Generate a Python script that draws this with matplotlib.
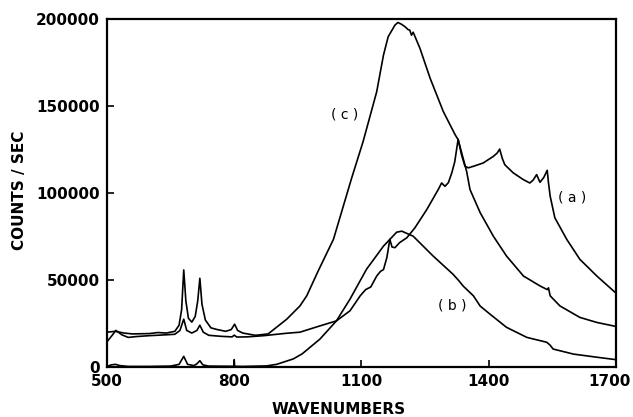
import numpy as np
import matplotlib
matplotlib.use("Agg")
import matplotlib.pyplot as plt
import matplotlib.transforms as mtransforms

# curve (a)
A_WN = [500, 510, 521, 535, 550, 570, 600, 640, 660, 672, 681, 688, 700, 712, 719, 727,
        740, 770, 795, 800, 806, 830, 870, 920, 955, 998, 1041, 1073, 1097, 1110, 1122,
        1136, 1145, 1152, 1160, 1167, 1172, 1179, 1190, 1207, 1226, 1254, 1281, 1289,
        1297, 1305, 1313, 1320, 1328, 1336, 1344, 1352, 1364, 1387, 1411, 1420, 1426,
        1432, 1438, 1458, 1482, 1497, 1505, 1513, 1521, 1530, 1538, 1541, 1545, 1556,
        1584, 1615, 1655, 1700]
A_CNT = [14500, 17500, 21000, 18500, 17000, 17500, 18000, 18500, 18800, 21000, 27500,
         21000, 19500, 21000, 24000, 20000, 18200, 17600, 17300, 18300, 17200, 17300,
         18000, 19300, 20000, 23300, 26500, 32300, 40900, 44500, 46000, 52300, 55000,
         56000, 63000, 73400, 69000, 68600, 71500, 74300, 80000, 90500, 102000, 105800,
         103900, 106000, 111600, 118000, 131000, 122000, 115500, 114500, 115400, 117300,
         121100, 123000, 125300, 120000, 116300, 111600, 107700, 105800, 107500, 110600,
         106200, 109000, 113100, 106000, 98200, 85800, 73400, 61900, 52300, 42500]

# curve (b)
B_WN = [500, 510, 520, 530, 550, 600, 650, 670, 681, 690, 705, 712, 719, 726, 740, 790,
        799, 800, 801, 820, 876, 900, 939, 960, 1002, 1041, 1073, 1112, 1152, 1183, 1195,
        1222, 1269, 1316, 1330, 1340, 1364, 1380, 1403, 1442, 1490, 1537, 1545, 1552,
        1600, 1655, 1700]
B_CNT = [300, 1200, 1500, 800, 300, 300, 500, 1500, 6100, 1500, 800, 1800, 3600, 1200,
         500, 400, 400, 4200, 400, 300, 600, 1500, 4600, 7500, 16000, 26500, 39000, 56200,
         69500, 77500, 78100, 75200, 63800, 53300, 49500, 46500, 40900, 35000, 30400,
         22800, 17000, 14200, 12500, 10300, 7400, 5600, 4200]

# curve (c)
C_WN = [500, 520, 540, 560, 600, 620, 640, 660, 670, 676, 681, 686, 692, 700, 708, 714,
        719, 724, 732, 745, 760, 780, 793, 801, 808, 820, 850, 880, 924, 955, 971, 998,
        1034, 1077, 1104, 1136, 1152, 1163, 1179, 1186, 1195, 1203, 1210, 1214, 1218,
        1222, 1238, 1262, 1293, 1321, 1328, 1348, 1356, 1380, 1411, 1442, 1482, 1521,
        1538, 1541, 1545, 1568, 1615, 1655, 1700]
C_CNT = [20000, 20500, 19500, 19000, 19200, 19800, 19500, 20500, 24000, 33000, 55800,
         38000, 28000, 25800, 29000, 38000, 51000, 36000, 27000, 22500, 21500, 20500,
         21500, 24600, 21000, 19500, 18200, 19000, 27500, 35100, 40900, 55200, 73400,
         108700, 129700, 158300, 179400, 189900, 196600, 198100, 197000, 195600, 194000,
         193700, 190800, 192500, 183200, 166000, 146900, 133500, 130700, 112500, 102000,
         88700, 75200, 63800, 52300, 46600, 44500, 45500, 40900, 35100, 28500, 25600, 23300]

X_TICKS = [500, 800, 1100, 1400, 1700]
Y_TICKS = [0, 50000, 100000, 150000, 200000]

fig = plt.figure(figsize=(6.33, 4.17), dpi=100)
ax = fig.add_axes([0.169, 0.12, 0.804, 0.834])

for wn, cnt in [(A_WN, A_CNT), (B_WN, B_CNT), (C_WN, C_CNT)]:
    ax.plot(wn, cnt, color='black', lw=1.2)

ax.text(1596, 97200, '( a )', ha='center', va='center', fontsize=10)
ax.text(1313, 35100, '( b )', ha='center', va='center', fontsize=10)
ax.text(1061, 145000, '( c )', ha='center', va='center', fontsize=10)

ax.set_xlim(500, 1700)
ax.set_ylim(0, 200000)
ax.set_xticks(X_TICKS)
ax.set_yticks(Y_TICKS)
ax.set_xticklabels([str(t) for t in X_TICKS], fontweight='bold', fontsize=11)
ax.set_yticklabels([str(t) for t in Y_TICKS], fontweight='bold', fontsize=11)
ax.tick_params(direction='in', length=5, width=1.2, pad=5)
for sp in ax.spines.values():
    sp.set_linewidth(1.6)

# last x label sits a bit left of its tick, as in the original
lab = ax.get_xticklabels()[-1]
lab.set_transform(lab.get_transform() + mtransforms.ScaledTranslation(-6 / 100, 0, fig.dpi_scale_trans))

ax.set_xlabel('WAVENUMBERS', fontweight='bold', fontsize=11)
ax.set_ylabel('COUNTS / SEC', fontweight='bold', fontsize=11)
ax.xaxis.set_label_coords(0.456, -0.101)
ax.yaxis.set_label_coords(-0.157, 0.509)

fig.savefig('out.png', dpi=100)
